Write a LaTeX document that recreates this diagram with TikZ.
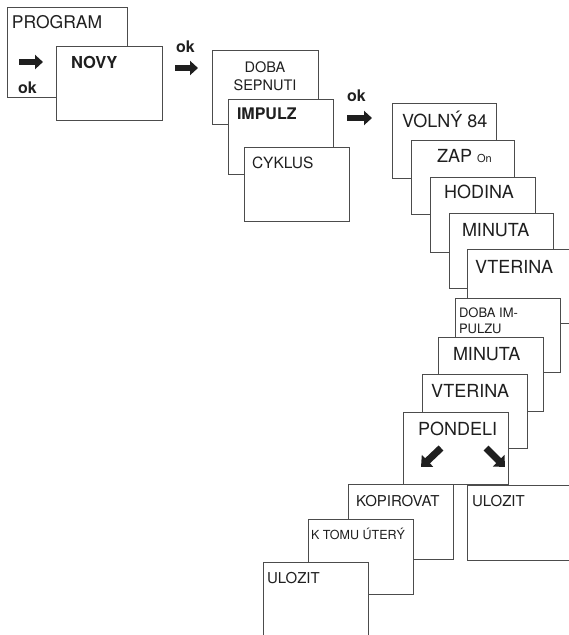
\documentclass[tikz,border=0pt]{standalone}
\usepackage{fontspec}
\setmainfont{TeX Gyre Heros}
\usetikzlibrary{arrows.meta}
\definecolor{edge}{gray}{0.30}
\definecolor{ink}{gray}{0.12}
\tikzset{
  panel/.style={draw=edge, line width=0.9pt, fill=white, inner sep=0pt, outer sep=0pt,
    anchor=north west, minimum width=105pt, minimum height=75pt},
  lbl/.style={anchor=base west, inner sep=0pt, outer sep=0pt, text=ink,
    font=\fontsize{18}{18}\selectfont},
  lblm/.style={lbl, font=\fontsize{15}{15}\selectfont},
  lbls/.style={lbl, font=\fontsize{13}{13}\selectfont},
  okl/.style={lbl, font=\bfseries\fontsize{16}{16}\selectfont},
  bigarrow/.style={draw=ink, line width=6.5pt, -{Triangle[length=8pt,width=14pt]}},
  diagarrow/.style={draw=ink, line width=7pt, -{Triangle[length=9pt,width=16pt]}},
}
\begin{document}
\begin{tikzpicture}[x=1pt,y=-1pt]
\useasboundingbox (0,0) rectangle (569,635);
\clip (0,0) rectangle (569,635);

% --- first group
\node[panel, minimum width=120pt, minimum height=90pt] (program) at (7,7) {};
\node[lbl, font=\fontsize{17.5}{17.5}\selectfont] (tprogram) at (12,28) {PROGRAM};
\coordinate (a0s) at (19,62); \coordinate (a0e) at (43,62);
\draw[bigarrow] (a0s) -- (a0e);
\node[okl] (ok0) at (18,93) {ok};
\node[panel, minimum width=106pt, minimum height=74pt] (novy) at (56,46) {};
\node[lbl, font=\bfseries\fontsize{16.5}{16.5}\selectfont] (tnovy) at (71,68) {NOVY};

\node[okl] (ok1) at (176,52) {ok};
\coordinate (a1s) at (175,68); \coordinate (a1e) at (198,68);
\draw[bigarrow] (a1s) -- (a1e);

% --- second group
\node[panel, minimum width=106pt, minimum height=74pt] (dobasep) at (212,50) {};
\node[lblm, anchor=base, font=\fontsize{14.5}{14.5}\selectfont] (tdoba) at (265,72) {DOBA};
\node[lblm, anchor=base, font=\fontsize{14.5}{14.5}\selectfont] (tsepnuti) at (265,90) {SEPNUTI};
\node[panel] (impulz) at (228,99) {};
\node[lbl, font=\bfseries\fontsize{16}{16}\selectfont] (timpulz) at (237,119) {IMPULZ};
\node[panel, minimum height=74pt] (cyklus) at (244,147) {};
\node[lbl, font=\fontsize{15.5}{15.5}\selectfont] (tcyklus) at (252,168) {CYKLUS};

\node[okl] (ok2) at (347,101) {ok};
\coordinate (a2s) at (347,118); \coordinate (a2e) at (372,118);
\draw[bigarrow] (a2s) -- (a2e);

% --- staircase down-right
\node[panel, minimum width=104pt] (volny) at (392,103) {};
\node[lbl] (tvolny) at (402,127) {VOLNÝ 84};
\node[panel, minimum width=103pt, minimum height=74pt] (zap) at (411,140) {};
\node[lbl] (tzap) at (437,162) {ZAP {\fontsize{11}{11}\selectfont On}};
\node[panel] (hodina) at (430,177) {};
\node[lbl] (thodina) at (444,198) {HODINA};
\node[panel, minimum width=104pt] (minuta1) at (449,213) {};
\node[lbl] (tminuta1) at (462,236) {MINUTA};
\node[panel, minimum height=74pt] (vterina1) at (467,249) {};
\node[lbl] (tvterina1) at (475,273) {VTERINA};

% --- staircase down-left
\node[panel, minimum height=74pt] (dobaimp) at (455,298) {};
\node[lbls] (tdobaimp1) at (459,317) {DOBA IM-};
\node[lbls] (tdobaimp2) at (459,333) {PULZU};
\node[panel, minimum height=74pt] (minuta2) at (438,337) {};
\node[lbl] (tminuta2) at (453,360) {MINUTA};
\node[panel, minimum height=74pt] (vterina2) at (422,374) {};
\node[lbl] (tvterina2) at (431,397) {VTERINA};
\node[panel, minimum height=72pt] (pondeli) at (403,412) {};
\node[lbl] (tpondeli) at (418,435) {PONDELI};
\coordinate (a3s) at (441,448); \coordinate (a3e) at (421,467);
\draw[diagarrow] (a3s) -- (a3e);
\coordinate (a4s) at (486,448); \coordinate (a4e) at (505,467);
\draw[diagarrow] (a4s) -- (a4e);

% --- branches
\node[panel] (ulozitr) at (467,485) {};
\node[lblm] (tulozitr) at (472,506) {ULOZIT};
\node[panel] (kopirovat) at (348,484) {};
\node[lblm] (tkopirovat) at (356,506) {KOPIROVAT};
\node[panel] (ktomu) at (308,519) {};
\node[lbl, font=\fontsize{12.5}{12.5}\selectfont] (tktomu) at (311,539) {K TOMU ÚTERÝ};
\node[panel] (ulozitl) at (263,562) {};
\node[lblm] (tulozitl) at (267,583) {ULOZIT};
\end{tikzpicture}
\end{document}
